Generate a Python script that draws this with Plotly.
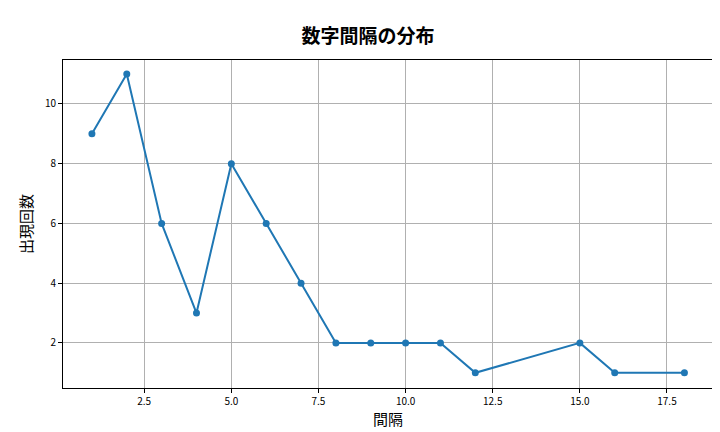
import plotly.graph_objects as go

intervals = [1, 2, 3, 4, 5, 6, 7, 8, 9, 10, 11, 12, 15, 16, 18]
counts = [9, 11, 6, 3, 8, 6, 4, 2, 2, 2, 2, 1, 2, 1, 1]

fig = go.Figure()
fig.add_trace(go.Scatter(
    x=intervals, y=counts, mode='lines+markers',
    line=dict(color='#1f77b4', width=2),
    marker=dict(color='#1f77b4', size=7),
))

axis_style = dict(
    showgrid=True, gridcolor='#b0b0b0', gridwidth=1,
    showline=True, linecolor='black', mirror=True,
    ticks='outside', ticklen=4, tickcolor='black',
    zeroline=False, tickfont=dict(size=10, color='black'),
    automargin=False,
)

fig.update_layout(
    width=720, height=432,
    font=dict(family='Noto Sans CJK JP', color='black'),
    title=dict(text='<b>数字間隔の分布</b>', x=0.5, y=0.95, xanchor='center',
               font=dict(size=19), automargin=False),
    plot_bgcolor='white', paper_bgcolor='white',
    margin=dict(l=55, r=15, t=52, b=52, autoexpand=False),
    showlegend=False,
)
fig.update_xaxes(range=[0.17, 18.82], tickvals=[2.5, 5, 7.5, 10, 12.5, 15, 17.5],
                 ticktext=['2.5', '5.0', '7.5', '10.0', '12.5', '15.0', '17.5'],
                 title=dict(text='間隔', font=dict(size=15), standoff=4), **axis_style)
fig.update_yaxes(range=[0.49, 11.47], tickvals=[2, 4, 6, 8, 10],
                 title=dict(text='出現回数', font=dict(size=15), standoff=8), **axis_style)

fig.write_html("out.html")
